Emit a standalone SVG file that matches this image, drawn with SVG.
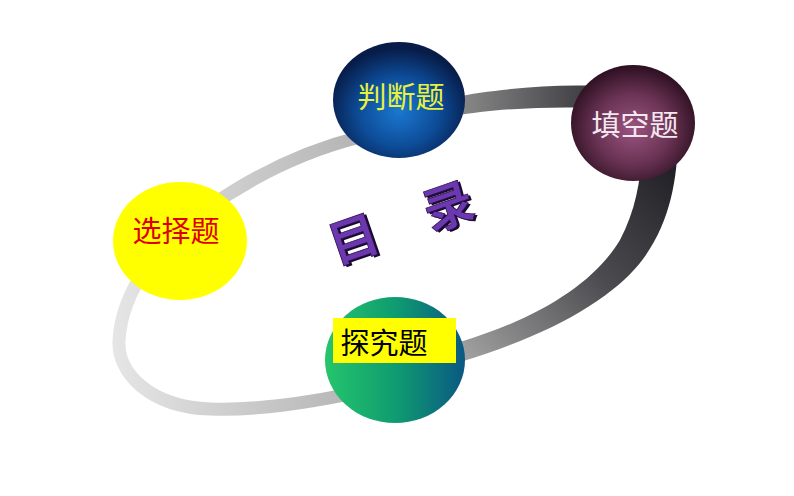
<svg xmlns="http://www.w3.org/2000/svg" width="794" height="496" viewBox="0 0 794 496">
<style>
.lbl{font-family:"Noto Sans CJK SC","Noto Sans CJK JP",sans-serif;font-size:29px;text-anchor:middle}
.title{font-family:"Noto Sans CJK SC","Noto Sans CJK JP",sans-serif;font-size:50px;font-weight:700;text-anchor:middle}
</style>
<defs>
<linearGradient id="gL" gradientUnits="userSpaceOnUse" x1="110" y1="0" x2="370" y2="0"><stop offset="0" stop-color="#e6e6e6"/><stop offset="1" stop-color="#b2b2b2"/></linearGradient>
<linearGradient id="gT" gradientUnits="userSpaceOnUse" x1="455" y1="0" x2="595" y2="0"><stop offset="0" stop-color="#8c8c8c"/><stop offset="1" stop-color="#3a3a3f"/></linearGradient>
<linearGradient id="gR" gradientUnits="userSpaceOnUse" x1="665" y1="165" x2="465" y2="355"><stop offset="0" stop-color="#222228"/><stop offset="0.45" stop-color="#4c4c50"/><stop offset="1" stop-color="#a0a0a0"/></linearGradient>
<radialGradient id="gBlue" cx="0.5" cy="0.6" r="0.55"><stop offset="0" stop-color="#1a78d0"/><stop offset="0.55" stop-color="#0d4c98"/><stop offset="1" stop-color="#071c48"/></radialGradient>
<radialGradient id="gMar" cx="0.5" cy="0.55" r="0.55"><stop offset="0" stop-color="#9a5480"/><stop offset="0.55" stop-color="#6a3354"/><stop offset="1" stop-color="#2c0f20"/></radialGradient>
<linearGradient id="gGreen" x1="0" y1="0" x2="1" y2="0"><stop offset="0" stop-color="#25c56c"/><stop offset="0.5" stop-color="#0f9c70"/><stop offset="1" stop-color="#0a5883"/></linearGradient>
</defs>
<rect width="794" height="496" fill="#ffffff"/>
<g id="connectors">
<path d="M360,137 C300,152 250,178 205,210 C160,240 122,290 119,340 C117,373 150,407 210,409 C260,410.7 310,402 350,394" fill="none" stroke="url(#gL)" stroke-width="13"/>
<path d="M455,97 C490,90 550,84 595,86 L595,108 C550,106 490,109 455,116 Z" fill="url(#gT)"/>
<path d="M678,140 C677,180 670,225 640,263 C610,300 550,335 460,362 L460,342 C540,318 595,282 620,240 C635,212 641,180 642,150 Z" fill="url(#gR)"/>
</g>
<g id="node-xuanze">
<ellipse cx="180" cy="241" rx="67" ry="59" fill="#ffff00"/>
<text class="lbl" x="176" y="242" fill="#dd0000">选择题</text>
</g>
<g id="node-panduan">
<ellipse cx="399" cy="100" rx="66" ry="58" fill="url(#gBlue)"/>
<text class="lbl" x="401" y="108" fill="#e8f23c">判断题</text>
</g>
<g id="node-tiankong">
<ellipse cx="633" cy="123" rx="62" ry="58" fill="url(#gMar)"/>
<text class="lbl" x="635" y="136" fill="#f4e8f0">填空题</text>
</g>
<g id="node-tanjiu">
<ellipse cx="395" cy="360" rx="70" ry="63" fill="url(#gGreen)"/>
<rect x="333" y="318" width="123" height="45" fill="#ffff00"/>
<text class="lbl" x="384" y="354" fill="#000000">探究题</text>
</g>
<g id="title">
<text class="title" transform="translate(407,240) rotate(-19)" fill="#1a0a2e" x="2" y="2" letter-spacing="0">目　录</text>
<text class="title" transform="translate(407,240) rotate(-19)" fill="#6c38b0" stroke="#2a0f48" stroke-width="0.8" x="0" y="0" letter-spacing="0">目　录</text>
</g>
</svg>
